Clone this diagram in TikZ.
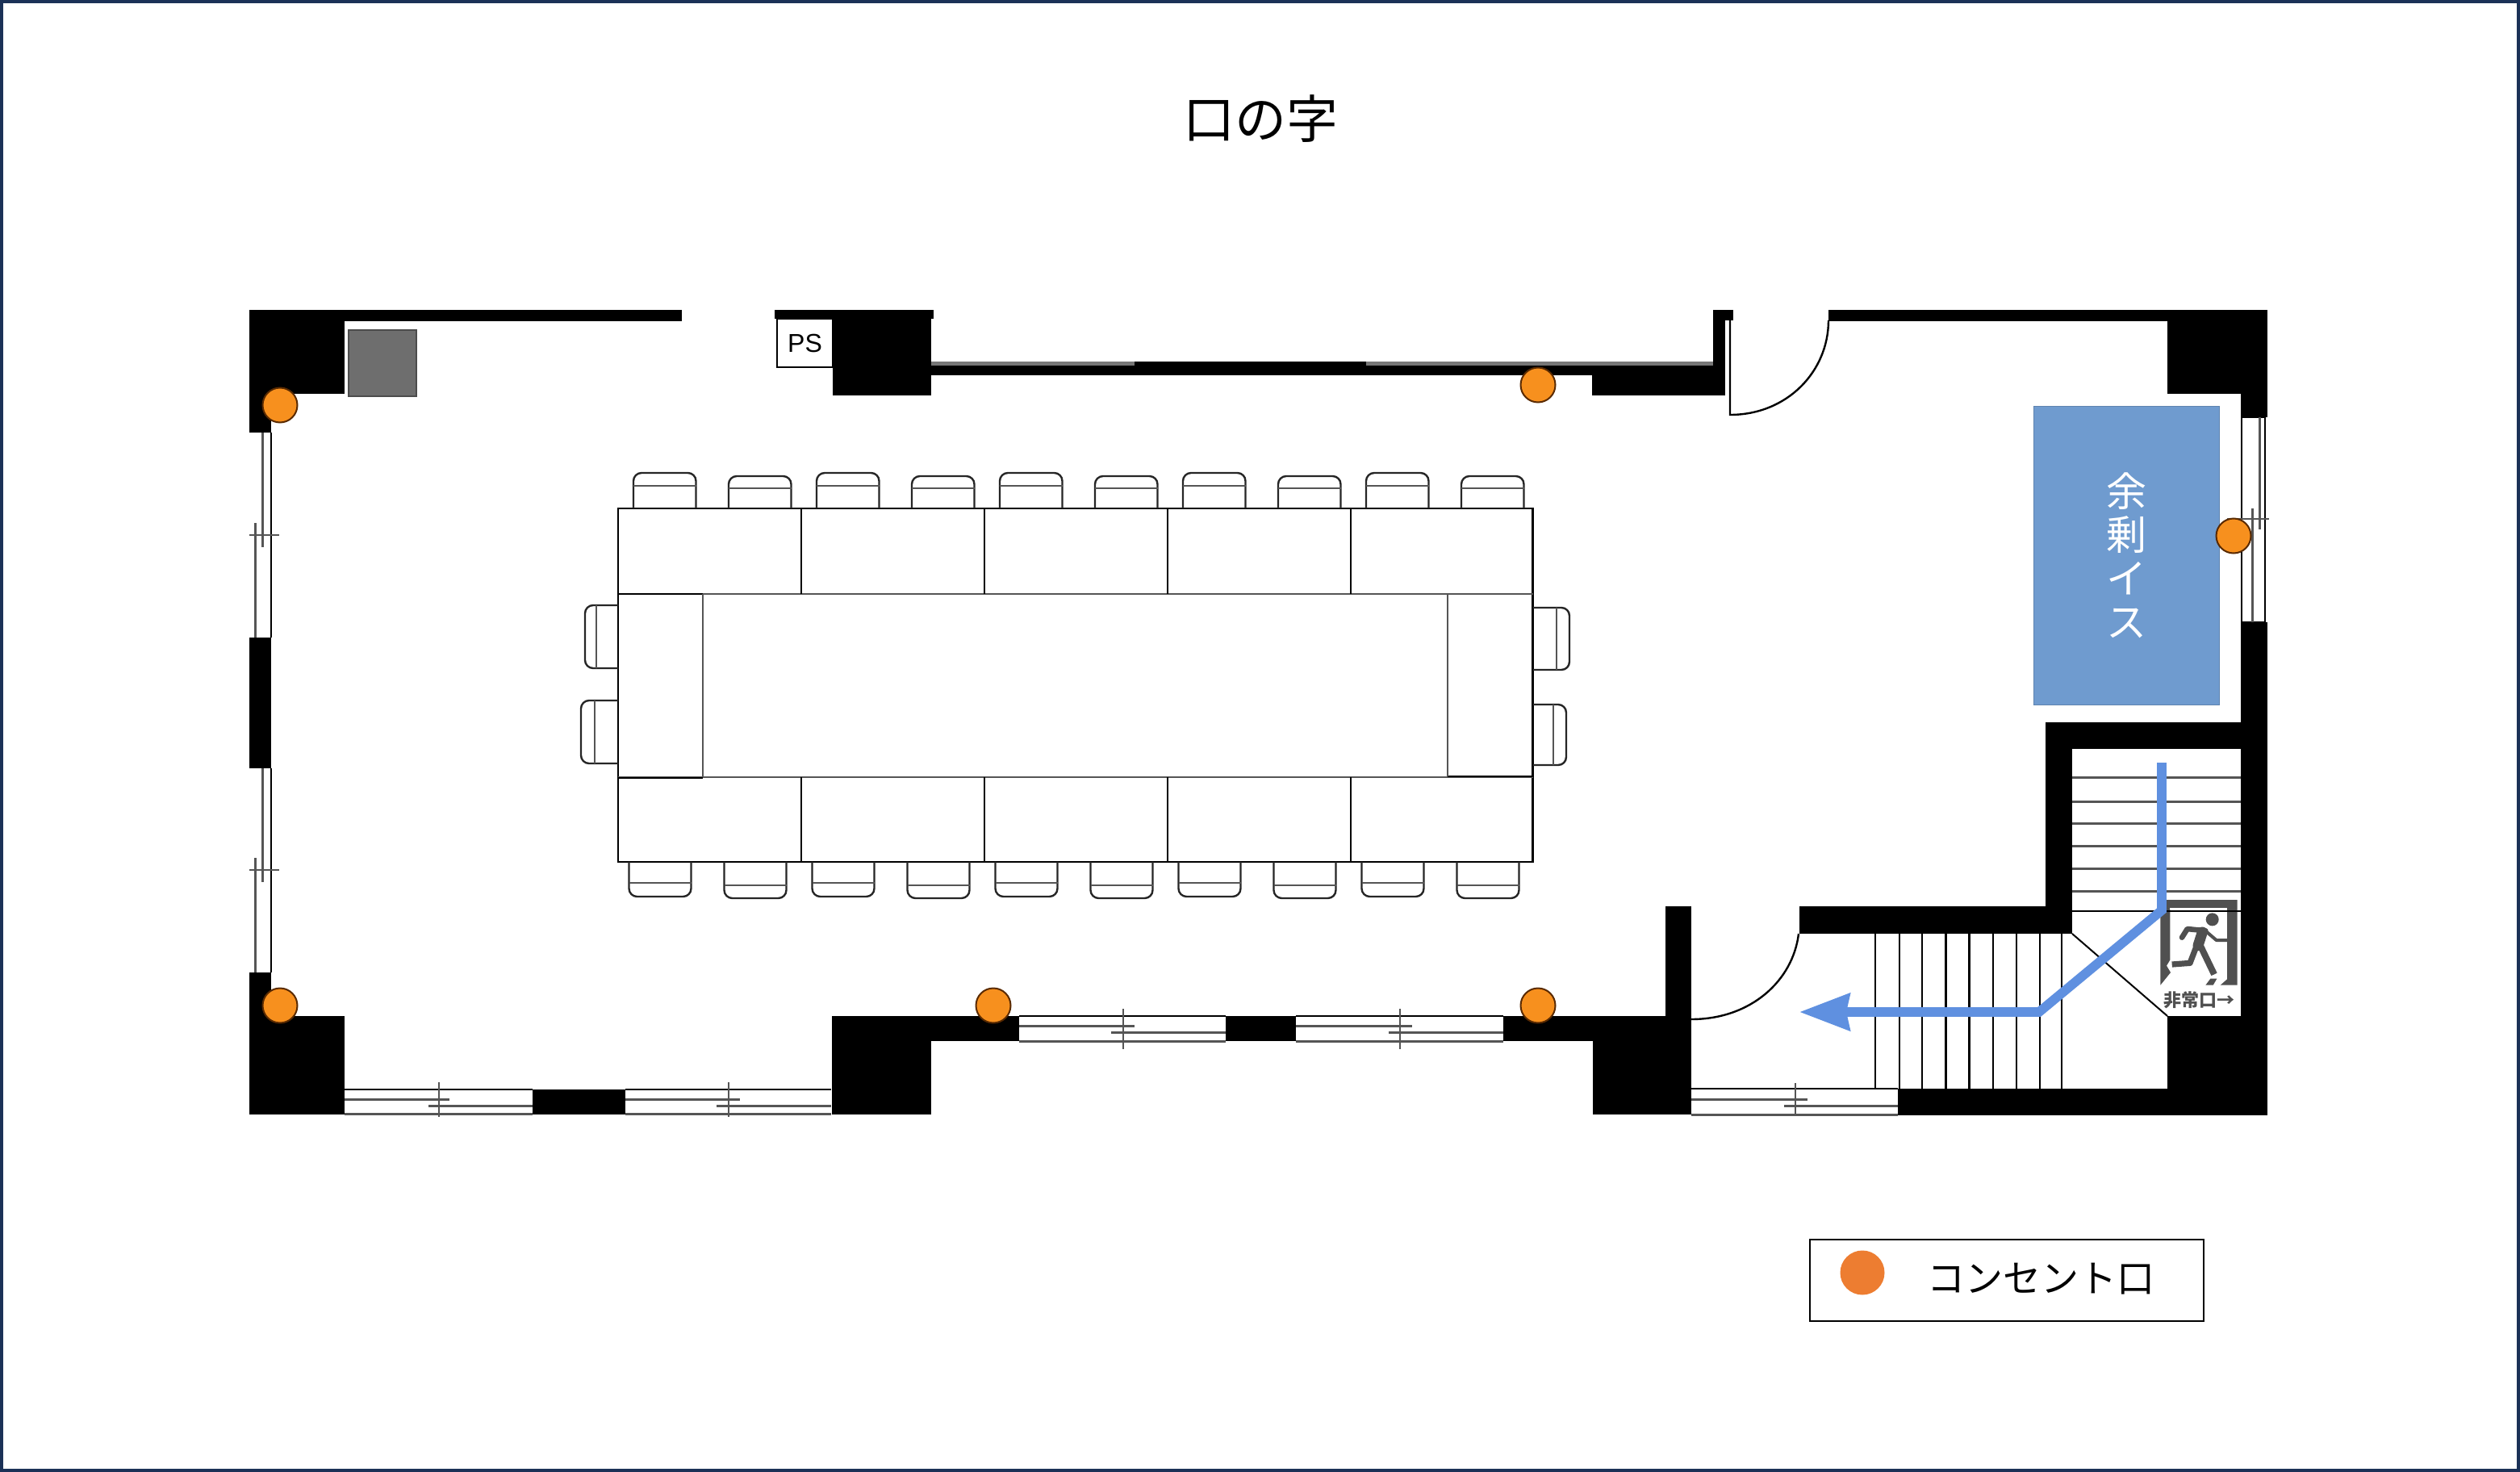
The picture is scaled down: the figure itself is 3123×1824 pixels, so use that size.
\documentclass[tikz,border=0pt]{standalone}
\usepackage{fontspec}
\setmainfont{Liberation Sans}
\newfontfamily\jp{Noto Sans CJK JP}
\usetikzlibrary{arrows.meta}
\definecolor{framenavy}{HTML}{1B3157}
\definecolor{dotorange}{HTML}{F7901E}
\definecolor{dotedge}{HTML}{5A2A00}
\definecolor{legendorange}{HTML}{ED7D31}
\definecolor{sparefill}{HTML}{6F9BCF}
\definecolor{routeblue}{HTML}{5F90E0}
\definecolor{signgray}{HTML}{505050}
\definecolor{softline}{HTML}{555555}
\tikzset{
  wallfill/.style={fill=black},
  softwall/.style={fill=softline!80},
  sash/.style={draw=softline,line width=1.5pt},
  winline/.style={draw=black,line width=1.2pt},
  tick/.style={draw=softline,line width=1pt},
  tableline/.style={draw=black,line width=1.2pt},
  midline/.style={draw=softline,line width=1.4pt},
  chairline/.style={draw=black!85,line width=1.2pt,rounded corners=5pt},
  chairinner/.style={draw=softline,line width=1.3pt},
  stairline/.style={draw=black,line width=1.1pt},
  outlet/.style={circle,draw=dotedge,line width=1pt,fill=dotorange,minimum size=21.5pt,inner sep=0pt},
  routeline/.style={draw=routeblue,line width=5.8pt,-{Stealth[length=31pt,width=22.5pt,inset=2pt]}},
}
% chair with its back upward: x1 x2 ytop yinner
\newcommand{\chairup}[4]{%
  \draw[chairline] (#1,630) -- (#1,#3) -- (#2,#3) -- (#2,630);
  \draw[chairinner] (#1,#4) -- (#2,#4);}
\newcommand{\chairdown}[4]{%
  \draw[chairline] (#1,1068) -- (#1,#3) -- (#2,#3) -- (#2,1068);
  \draw[chairinner] (#1,#4) -- (#2,#4);}
% chair at a table end: xtable xback xinner ytop ybottom
\newcommand{\chairside}[5]{%
  \draw[chairline] (#1,#4) -- (#2,#4) -- (#2,#5) -- (#1,#5);
  \draw[chairinner] (#3,#4) -- (#3,#5);}
\begin{document}
\begin{tikzpicture}[x=0.5pt,y=-0.5pt]
\useasboundingbox (0,0) rectangle (3123,1824);
\fill[white] (0,0) rectangle (3123,1824);
\draw[framenavy,line width=2pt] (2,2) rectangle (3121,1822);

% title
\node[font={\jp\fontsize{32}{36}\selectfont}] (title) at (1562,147) {口の字};

% ---- walls
% top-left corner and top wall
\fill[wallfill] (309,384) rectangle (427,488);
\fill[wallfill] (427,384) rectangle (845,398);
\fill[wallfill] (309,488) rectangle (336,536);
% left wall between windows
\fill[wallfill] (309,790) rectangle (336,952);
% bottom-left corner
\fill[wallfill] (309,1205) rectangle (336,1381);
\fill[wallfill] (336,1259) rectangle (427,1381);
\fill[wallfill] (660,1350) rectangle (775,1381);
\fill[wallfill] (1031,1259) rectangle (1154,1381);
\fill[wallfill] (1154,1259) rectangle (1263,1290);
\fill[wallfill] (1519,1259) rectangle (1606,1290);
\fill[wallfill] (1863,1259) rectangle (2064,1290);
\fill[wallfill] (1974,1290) rectangle (2096,1381);
\fill[wallfill] (2064,1123) rectangle (2096,1290);
% PS block and thin top wall
\fill[wallfill] (960,384) rectangle (1157,395);
\fill[wallfill] (1032,395) rectangle (1154,490);
\fill[softwall] (1154,448) rectangle (2123,453);
\fill[wallfill] (1154,453) rectangle (2123,465);
\fill[wallfill] (1406,448) rectangle (1693,465);
\fill[wallfill] (1973,453) rectangle (2138,490);
\fill[wallfill] (2123,384) rectangle (2148,397);
\fill[wallfill] (2123,397) rectangle (2138,490);
% top right
\fill[wallfill] (2266,384) rectangle (2686,398);
\fill[wallfill] (2686,384) rectangle (2810,488);
\fill[wallfill] (2777,488) rectangle (2810,517);
\fill[wallfill] (2777,771) rectangle (2810,1259);
% stair walls
\fill[wallfill] (2535,895) rectangle (2777,928);
\fill[wallfill] (2535,928) rectangle (2568,1157);
\fill[wallfill] (2230,1123) rectangle (2568,1157);
\fill[wallfill] (2686,1259) rectangle (2810,1382);
\fill[wallfill] (2352,1349) rectangle (2686,1382);

% ---- left windows
\foreach \yt/\yb/\yk in {536/790/663, 952/1205/1078}{
  \draw[winline] (336,\yt) -- (336,\yb);
  \pgfmathsetmacro{\ya}{\yk+15}
  \pgfmathsetmacro{\yc}{\yk-15}
  \draw[sash] (325,\yt) -- (325,\ya);
  \draw[sash] (316,\yc) -- (316,\yb);
  \draw[tick] (309,\yk) -- (346,\yk);
}
% ---- bottom windows
\foreach \xa/\xb/\xs/\xr/\xk/\yt/\yb in {427/660/557/531/544/1350/1380, 775/1030/917/888/903/1350/1380}{
  \draw[winline] (\xa,\yt) -- (\xb,\yt);
  \draw[sash] (\xa,\yb) -- (\xb,\yb);
  \draw[sash] (\xa,1362) -- (\xs,1362);
  \draw[sash] (\xr,1370) -- (\xb,1370);
  \draw[tick] (\xk,1341) -- (\xk,1384);
}
\foreach \xa/\xb/\xs/\xr/\xk in {1263/1519/1406/1377/1392, 1606/1863/1750/1721/1735}{
  \draw[winline] (\xa,1259) -- (\xb,1259);
  \draw[sash] (\xa,1290) -- (\xb,1290);
  \draw[sash] (\xa,1271) -- (\xs,1271);
  \draw[sash] (\xr,1279) -- (\xb,1279);
  \draw[tick] (\xk,1250) -- (\xk,1300);
}
\draw[winline] (2096,1349) -- (2352,1349);
\draw[sash] (2096,1381) -- (2352,1381);
\draw[sash] (2096,1362) -- (2240,1362);
\draw[sash] (2211,1370) -- (2352,1370);
\draw[tick] (2225,1342) -- (2225,1382);
% ---- right window
\draw[winline] (2778,517) -- (2778,771) -- (2807,771) -- (2807,517) -- cycle;
\draw[sash] (2800,517) -- (2800,656);
\draw[sash] (2791,630) -- (2791,771);
\draw[tick] (2760,643) -- (2812,643);

% ---- doors
\draw[winline] (2144,397) -- (2144,514) .. controls (2215,514) and (2266,460) .. (2266,397);
\draw[winline] (2096,1263) .. controls (2170,1263) and (2222,1215) .. (2229,1157);

% ---- fixtures
\draw[draw=black!70,fill=black!57,line width=0.8pt] (432,409) rectangle (516,491);
\node[draw=black,line width=0.8pt,fill=white,inner sep=0pt,minimum width=34.5pt,minimum height=30pt,font=\fontsize{16}{18}\selectfont] (ps) at (997.5,425) {PS};

% ---- table
\draw[tableline] (766,630) rectangle (1899.5,1068);
\draw[midline] (766,736) -- (1899.5,736);
\draw[midline] (766,963) -- (1899.5,963);
\draw[tableline] (766,736) -- (871,736);
\draw[tableline] (766,964) -- (871,964);
\draw[tableline] (1794,962) -- (1899.5,962);
\draw[midline] (871,736) -- (871,963);
\draw[midline] (1794,736) -- (1794,962);
\foreach \x in {993,1220,1447,1674}{
  \draw[tableline] (\x,630) -- (\x,736);
  \draw[tableline] (\x,963) -- (\x,1068);
}
% chairs
\foreach \k in {0,...,4}{
  \pgfmathsetmacro{\xa}{785+227*\k}
  \pgfmathsetmacro{\xb}{\xa+77.5}
  \pgfmathsetmacro{\xc}{903+227*\k}
  \pgfmathsetmacro{\xd}{\xc+77.5}
  \chairup{\xa}{\xb}{586}{602}
  \chairup{\xc}{\xd}{590}{605}
  \pgfmathsetmacro{\xa}{779.5+227*\k}
  \pgfmathsetmacro{\xb}{\xa+77}
  \pgfmathsetmacro{\xc}{897.5+227*\k}
  \pgfmathsetmacro{\xd}{\xc+77}
  \chairdown{\xa}{\xb}{1111}{1094}
  \chairdown{\xc}{\xd}{1113}{1097}
}
\chairside{766}{725}{739}{750}{828}
\chairside{766}{720}{737}{868}{946}
\chairside{1899.5}{1945}{1929}{753}{830}
\chairside{1899.5}{1941}{1925}{873}{948}

% ---- spare chairs area
\node[draw=sparefill!85!black,line width=0.6pt,fill=sparefill,minimum width=115pt,minimum height=185pt,inner sep=0pt,anchor=north west,
  text=white,align=center,font={\jp\fontsize{25}{27}\selectfont}] (spare) at (2520,503) {余\\剰\\イ\\ス};

% ---- stairs
\foreach \x in {2323.6,2353.8,2382.3,2411.4,2440.5,2470,2499,2527.7,2555}{
  \draw[stairline] (\x,1157) -- (\x,1349);
}
\foreach \y in {963,993,1020,1048,1076,1104}{
  \draw[draw=softline,line width=1.5pt] (2568,\y) -- (2777,\y);
}
\draw[draw=black,line width=1pt] (2568,1129) -- (2777,1129);
\draw[draw=black,line width=1pt] (2568,1157) -- (2686,1259);

% ---- exit sign
\begin{scope}[shift={(2640,1090)},x=0.1667pt,y=-0.1667pt]
  \fill[signgray] (112,75) -- (398,75) -- (398,392) -- (335,392) -- (360,370) -- (360,105)
    -- (148,105) -- (148,298) -- (135,320) -- (150,345) -- (112,392) -- cycle;
  \fill[white] (148,105) rectangle (360,112);
  \fill[signgray] (305,148) circle (24);
  \draw[signgray,line width=3.3pt,line join=round,line cap=round] (280,190) -- (212,183) -- (192,215);
  \draw[signgray,line width=2pt,line join=round] (285,195) -- (320,225) -- (360,225);
  \draw[signgray,line width=6.5pt,line cap=round] (268,195) -- (252,245);
  \draw[signgray,line width=3.6pt,line join=round] (245,250) -- (222,310) -- (155,315);
  \draw[signgray,line width=4pt] (258,240) -- (312,352);
  \fill[signgray] (280,392) -- (298,368) -- (322,368) -- (308,392) -- cycle;
  \draw[black,line width=0.8pt] (112,117) -- (398,117);
\end{scope}
\node[inner sep=0pt,text=signgray,font={\jp\bfseries\fontsize{11}{12}\selectfont}] (exitlabel) at (2725.5,1239) {非常口→};

% ---- evacuation route
\coordinate (r1) at (2679,945);
\coordinate (r2) at (2679,1128);
\coordinate (r3) at (2527,1254);
\coordinate (r4) at (2230,1254);
\draw[routeline] (r1) -- (r2) -- (r3) -- (r4);

% ---- outlets
\node[outlet] (o1) at (347,502) {};
\node[outlet] (o2) at (347,1246) {};
\node[outlet] (o3) at (1906,477) {};
\node[outlet] (o4) at (1231,1246) {};
\node[outlet] (o5) at (1906,1246) {};
\node[outlet] (o6) at (2768,664) {};

% ---- legend
\draw[black,line width=1.4pt] (2243,1536) rectangle (2731,1637);
\node[circle,fill=legendorange,minimum size=27.5pt,inner sep=0pt] (legenddot) at (2308,1577) {};
\node[font={\jp\fontsize{23.5}{26}\selectfont},inner sep=0pt] (legendtext) at (2529,1585) {コンセント口};
\end{tikzpicture}
\end{document}
